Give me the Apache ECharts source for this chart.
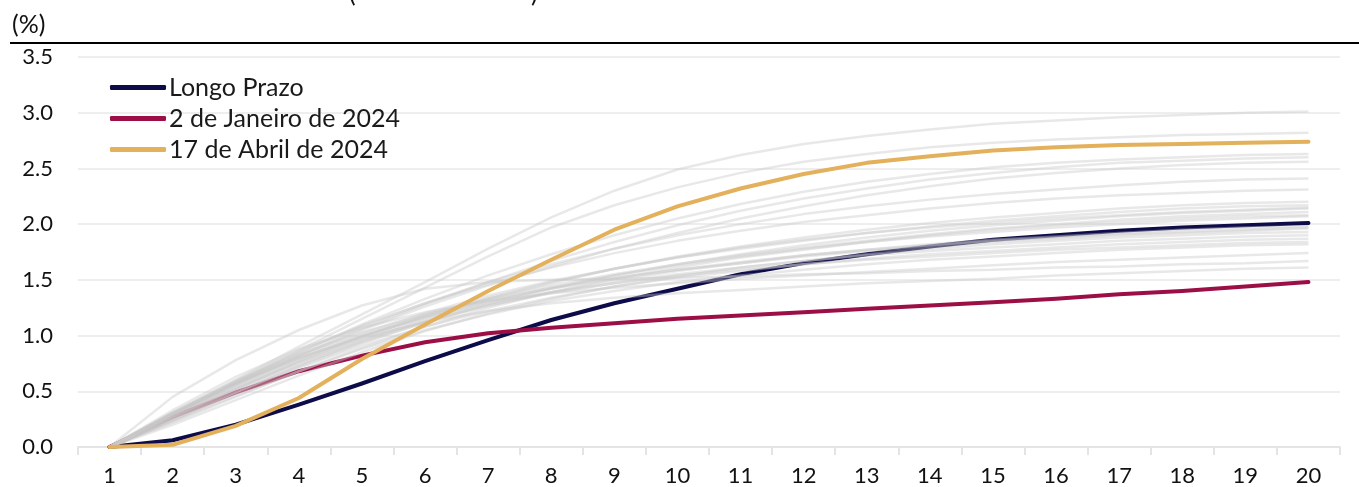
<!DOCTYPE html>
<html>
<head>
<meta charset="utf-8">
<script src="https://cdn.jsdelivr.net/npm/echarts@6/dist/echarts.min.js"></script>
<style>
html,body{margin:0;padding:0;background:#fff;}
#chart{width:1359px;height:487px;}
</style>
</head>
<body>
<div id="chart"></div>
<script>
const categories = ['1','2','3','4','5','6','7','8','9','10','11','12','13','14','15','16','17','18','19','20'];
const yTicks = [0, 0.5, 1.0, 1.5, 2.0, 2.5, 3.0, 3.5];

const longoPrazo = [0, 0.06, 0.20, 0.38, 0.57, 0.77, 0.96, 1.14, 1.29, 1.42, 1.55, 1.65, 1.73, 1.80, 1.86, 1.90, 1.94, 1.97, 1.99, 2.01];
const jan2024 = [0, 0.27, 0.49, 0.68, 0.82, 0.94, 1.02, 1.07, 1.11, 1.15, 1.18, 1.21, 1.24, 1.27, 1.30, 1.33, 1.37, 1.40, 1.44, 1.48];
const abr2024 = [0, 0.02, 0.19, 0.44, 0.79, 1.10, 1.40, 1.68, 1.95, 2.16, 2.32, 2.45, 2.55, 2.61, 2.66, 2.69, 2.71, 2.72, 2.73, 2.74];

const gray01 = [0, 0.30, 0.60, 0.90, 1.19, 1.48, 1.78, 2.06, 2.30, 2.49, 2.62, 2.72, 2.79, 2.85, 2.90, 2.93, 2.96, 2.98, 3.00, 3.01];
const gray02 = [0, 0.29, 0.58, 0.87, 1.15, 1.43, 1.71, 1.97, 2.17, 2.33, 2.46, 2.56, 2.63, 2.69, 2.73, 2.76, 2.78, 2.80, 2.81, 2.82];
const gray03 = [0, 0.30, 0.58, 0.85, 1.10, 1.33, 1.54, 1.73, 1.90, 2.05, 2.18, 2.29, 2.38, 2.45, 2.51, 2.55, 2.58, 2.60, 2.62, 2.63];
const gray04 = [0, 0.29, 0.56, 0.82, 1.06, 1.28, 1.48, 1.67, 1.84, 1.99, 2.12, 2.23, 2.32, 2.40, 2.46, 2.51, 2.55, 2.57, 2.59, 2.60];
const gray05 = [0, 0.30, 0.57, 0.82, 1.05, 1.26, 1.45, 1.62, 1.78, 1.92, 2.05, 2.16, 2.26, 2.34, 2.41, 2.46, 2.50, 2.53, 2.55, 2.56];
const gray06 = [0, 0.30, 0.58, 0.84, 1.08, 1.29, 1.48, 1.64, 1.78, 1.90, 2.00, 2.09, 2.16, 2.22, 2.27, 2.31, 2.35, 2.38, 2.40, 2.41];
const gray07 = [0, 0.31, 0.60, 0.86, 1.09, 1.29, 1.46, 1.61, 1.74, 1.85, 1.94, 2.02, 2.08, 2.14, 2.19, 2.23, 2.26, 2.28, 2.30, 2.31];
const gray08 = [0, 0.27, 0.52, 0.76, 0.97, 1.16, 1.33, 1.47, 1.60, 1.71, 1.80, 1.88, 1.95, 2.01, 2.06, 2.10, 2.14, 2.17, 2.19, 2.20];
const gray09 = [0, 0.30, 0.57, 0.81, 1.02, 1.20, 1.36, 1.49, 1.60, 1.70, 1.78, 1.85, 1.92, 1.98, 2.03, 2.07, 2.11, 2.14, 2.16, 2.17];
const gray10 = [0, 0.25, 0.49, 0.72, 0.93, 1.12, 1.28, 1.42, 1.54, 1.64, 1.73, 1.81, 1.88, 1.94, 1.99, 2.03, 2.07, 2.10, 2.12, 2.14];
const gray11 = [0, 0.28, 0.55, 0.79, 1.00, 1.18, 1.33, 1.45, 1.55, 1.64, 1.72, 1.79, 1.85, 1.91, 1.96, 2.00, 2.04, 2.07, 2.09, 2.11];
const gray12 = [0, 0.22, 0.45, 0.68, 0.89, 1.08, 1.25, 1.39, 1.51, 1.61, 1.70, 1.77, 1.84, 1.90, 1.95, 1.99, 2.02, 2.05, 2.07, 2.08];
const gray13 = [0, 0.26, 0.51, 0.74, 0.94, 1.12, 1.27, 1.39, 1.49, 1.58, 1.65, 1.72, 1.77, 1.82, 1.86, 1.89, 1.92, 1.95, 1.97, 1.98];
const gray14 = [0, 0.31, 0.59, 0.83, 1.03, 1.19, 1.32, 1.43, 1.52, 1.59, 1.65, 1.71, 1.76, 1.80, 1.84, 1.87, 1.90, 1.92, 1.94, 1.96];
const gray15 = [0, 0.20, 0.42, 0.64, 0.85, 1.04, 1.20, 1.33, 1.44, 1.53, 1.61, 1.67, 1.73, 1.78, 1.82, 1.85, 1.88, 1.90, 1.92, 1.93];
const gray16 = [0, 0.27, 0.53, 0.76, 0.96, 1.13, 1.27, 1.38, 1.47, 1.55, 1.61, 1.67, 1.72, 1.76, 1.79, 1.82, 1.85, 1.87, 1.89, 1.90];
const gray17 = [0, 0.24, 0.48, 0.71, 0.91, 1.08, 1.22, 1.34, 1.44, 1.52, 1.58, 1.64, 1.69, 1.73, 1.76, 1.79, 1.82, 1.84, 1.86, 1.87];
const gray18 = [0, 0.29, 0.56, 0.80, 1.00, 1.16, 1.29, 1.39, 1.47, 1.54, 1.59, 1.64, 1.68, 1.71, 1.74, 1.77, 1.79, 1.81, 1.83, 1.84];
const gray19 = [0, 0.23, 0.46, 0.68, 0.88, 1.05, 1.19, 1.31, 1.40, 1.48, 1.54, 1.59, 1.64, 1.68, 1.71, 1.74, 1.77, 1.79, 1.81, 1.82];
const gray20 = [0, 0.33, 0.63, 0.88, 1.07, 1.21, 1.31, 1.38, 1.43, 1.47, 1.51, 1.54, 1.57, 1.60, 1.63, 1.66, 1.68, 1.70, 1.72, 1.74];
const gray21 = [0, 0.45, 0.78, 1.05, 1.27, 1.42, 1.48, 1.50, 1.51, 1.52, 1.53, 1.55, 1.56, 1.58, 1.59, 1.61, 1.62, 1.64, 1.65, 1.67];
const gray22 = [0, 0.30, 0.57, 0.80, 0.98, 1.12, 1.22, 1.29, 1.34, 1.38, 1.41, 1.44, 1.47, 1.49, 1.51, 1.54, 1.56, 1.58, 1.60, 1.61];
const gray23 = [0, 0.26, 0.52, 0.77, 0.99, 1.18, 1.34, 1.48, 1.60, 1.70, 1.79, 1.86, 1.92, 1.97, 2.01, 2.05, 2.08, 2.11, 2.13, 2.15];
const gray24 = [0, 0.24, 0.49, 0.73, 0.95, 1.14, 1.30, 1.43, 1.54, 1.63, 1.71, 1.78, 1.84, 1.89, 1.93, 1.97, 2.00, 2.03, 2.05, 2.07];
const gray25 = [0, 0.28, 0.54, 0.78, 0.99, 1.17, 1.31, 1.42, 1.51, 1.59, 1.66, 1.72, 1.77, 1.81, 1.85, 1.88, 1.91, 1.93, 1.95, 1.97];

const grayLines = [gray01, gray02, gray03, gray04, gray05, gray06, gray07, gray08, gray09, gray10,
  gray11, gray12, gray13, gray14, gray15, gray16, gray17, gray18, gray19, gray20,
  gray21, gray22, gray23, gray24, gray25];

const FONT = 'Lato, "Open Sans", sans-serif';
const chart = echarts.init(document.getElementById('chart'), null, {renderer: 'canvas'});

const series = [];
series.push({
  name: 'Longo Prazo', type: 'line', data: longoPrazo, showSymbol: false, symbol: 'none',
  lineStyle: {color: '#0d0b48', width: 4, cap: 'round', join: 'round'}, itemStyle: {color: '#0d0b48'},
  z: 2, silent: true
});
series.push({
  name: '2 de Janeiro de 2024', type: 'line', data: jan2024, showSymbol: false, symbol: 'none',
  lineStyle: {color: '#9c0f46', width: 4, cap: 'round', join: 'round'}, itemStyle: {color: '#9c0f46'},
  z: 2, silent: true
});
grayLines.forEach(function (arr) {
  series.push({
    name: '', type: 'line', data: arr, showSymbol: false, symbol: 'none',
    lineStyle: {color: 'rgb(200,200,200)', opacity: 0.42, width: 2.5},
    z: 3, silent: true
  });
});
series.push({
  name: '17 de Abril de 2024', type: 'line', data: abr2024, showSymbol: false, symbol: 'none',
  lineStyle: {color: '#e3b05b', width: 4, cap: 'round', join: 'round'}, itemStyle: {color: '#e3b05b'},
  z: 4, silent: true
});

chart.setOption({
  animation: false,
  backgroundColor: '#ffffff',
  textStyle: {fontFamily: FONT},
  grid: {left: 78, right: 19, top: 57, bottom: 40, containLabel: false, outerBoundsMode: 'none'},
  legend: {
    data: ['Longo Prazo', '2 de Janeiro de 2024', '17 de Abril de 2024'],
    orient: 'vertical', left: 105, top: 70,
    icon: 'roundRect', itemWidth: 56, itemHeight: 5, itemGap: 6,
    textStyle: {fontFamily: FONT, fontSize: 25, color: '#1a1a1a', padding: [0, 0, 0, -2]},
    selectedMode: false
  },
  xAxis: {
    type: 'category', data: categories, boundaryGap: true,
    axisLine: {show: true, lineStyle: {color: '#e4e4e4', width: 2}},
    axisTick: {show: true, alignWithLabel: false, length: 8, lineStyle: {color: '#e4e4e4', width: 2}},
    axisLabel: {fontFamily: FONT, fontSize: 22, color: '#111', margin: 18},
    splitLine: {show: false}
  },
  yAxis: {
    type: 'value', min: yTicks[0], max: yTicks[yTicks.length - 1], interval: 0.5,
    axisLine: {show: false}, axisTick: {show: false},
    axisLabel: {fontFamily: FONT, fontSize: 22, color: '#111', margin: 25,
      formatter: function (v) { return v.toFixed(1); }},
    splitLine: {show: true, lineStyle: {color: '#eeeeee', width: 2}}
  },
  graphic: [
    {type: 'line', shape: {x1: 10, y1: 43, x2: 1359, y2: 43}, style: {stroke: '#000', lineWidth: 2}},
    {type: 'text', left: 12, top: 12, style: {text: '(%)', fontFamily: FONT, fontSize: 25, fill: '#111'}},
    {type: 'text', left: 349, top: -19, style: {text: '(', fontFamily: FONT, fontSize: 25, fill: '#111'}},
    {type: 'text', left: 531, top: -19, style: {text: ')', fontFamily: FONT, fontSize: 25, fill: '#111'}}
  ],
  series: series
});
</script>
</body>
</html>
